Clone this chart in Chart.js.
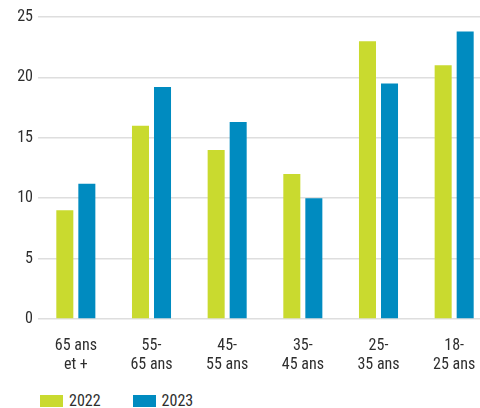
<!DOCTYPE html>
<html lang="fr">
<head>
<meta charset="utf-8">
<script src="https://cdn.jsdelivr.net/npm/chart.js@4"></script>
<style>
    html, body { margin: 0; padding: 0; background: #fff; overflow: hidden; }
    #wrap { position: relative; width: 480px; height: 408px; overflow: hidden; }
    #chart-box { position: absolute; left: 0; top: 0; width: 492px; height: 372px; }
    #legend { position: absolute; left: 40px; top: 394px; display: flex;
              font-family: 'Liberation Sans Narrow', 'Roboto Condensed', 'DejaVu Sans Condensed', sans-serif;
              font-size: 16px; color: #2e2e2e; line-height: 14px; }
    .item { display: flex; align-items: center; margin-right: 32px; }
    .swatch { width: 23px; height: 12px; margin-right: 6px; }
</style>
</head>
<body>
<div id="wrap">
    <div id="chart-box"><canvas id="ageChart"></canvas></div>
    <div id="legend"></div>
</div>
<script>
// Tranches d'âge (étiquettes sur deux lignes)
const categories = [
    ['65 ans', 'et +'],
    ['55-', '65 ans'],
    ['45-', '55 ans'],
    ['35-', '45 ans'],
    ['25-', '35 ans'],
    ['18-', '25 ans']
];
const values2022 = [9, 16, 14, 12, 23, 21];
const values2023 = [11.2, 19.2, 16.3, 10, 19.5, 23.8];
const yTicks = [0, 5, 10, 15, 20, 25];

const seriesNames = ['2022', '2023'];
const seriesColors = ['#c9da2f', '#008bc0'];

const fontFamily = "'Liberation Sans Narrow', 'Roboto Condensed', 'DejaVu Sans Condensed', sans-serif";
const textColor = '#2e2e2e';

const chart = new Chart(document.getElementById('ageChart'), {
    type: 'bar',
    data: {
        labels: categories,
        datasets: [values2022, values2023].map((vals, i) => ({
            label: seriesNames[i],
            data: vals,
            backgroundColor: seriesColors[i],
            borderWidth: 0,
            categoryPercentage: 0.582,
            barPercentage: 0.773
        }))
    },
    options: {
        responsive: true,
        maintainAspectRatio: false,
        animation: false,
        layout: { padding: { top: 17, left: 0, right: 0, bottom: 0 } },
        plugins: {
            legend: { display: false },
            tooltip: { enabled: false }
        },
        scales: {
            x: {
                grid: { display: false },
                border: { display: false },
                ticks: {
                    color: textColor,
                    padding: 10,
                    font: { family: fontFamily, size: 16, lineHeight: 1.15 },
                    maxRotation: 0,
                    autoSkip: false
                },
                afterFit: scale => { scale.height = 53; }
            },
            y: {
                min: 0,
                max: 25,
                afterBuildTicks: scale => { scale.ticks = yTicks.map(v => ({ value: v })); },
                grid: { color: '#dedede', lineWidth: 1.5, drawTicks: false },
                border: { display: false },
                ticks: {
                    color: textColor,
                    padding: 5,
                    font: { family: fontFamily, size: 16 }
                },
                afterFit: scale => { scale.width = 38; }
            }
        }
    }
});

// Légende HTML sous le graphique
const legend = document.getElementById('legend');
chart.data.datasets.forEach(ds => {
    const item = document.createElement('div');
    item.className = 'item';
    const sw = document.createElement('span');
    sw.className = 'swatch';
    sw.style.background = ds.backgroundColor;
    const txt = document.createElement('span');
    txt.textContent = ds.label;
    item.appendChild(sw);
    item.appendChild(txt);
    legend.appendChild(item);
});
</script>
</body>
</html>
